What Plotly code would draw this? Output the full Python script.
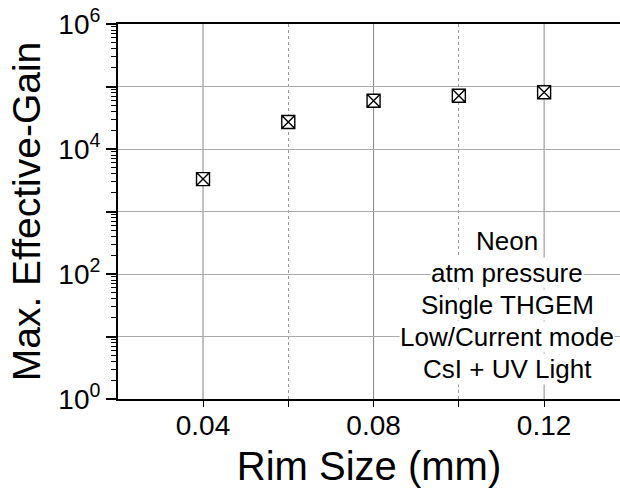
import plotly.graph_objects as go

rim_size = [0.04, 0.06, 0.08, 0.10, 0.12]
max_gain = [3300, 27000, 59000, 71000, 81000]

x_major_vals = [0.02, 0.04, 0.06, 0.08, 0.10, 0.12]
x_major_text = ["", "0.04", "", "0.08", "", "0.12"]
x_solid_grid = [0.04, 0.08, 0.12]
x_dotted_grid = [0.06, 0.10]

y_vals = [1, 10, 100, 1e3, 1e4, 1e5, 1e6]
y_text = ["10<sup>0</sup>", "", "10<sup>2</sup>", "", "10<sup>4</sup>", "", "10<sup>6</sup>"]
y_minor = [k * 10 ** d for d in range(0, 6) for k in range(2, 10)]

note_lines = ["Neon", "atm pressure", "Single THGEM", "Low/Current mode", "CsI + UV Light"]

FONT = "Liberation Sans, Arial, sans-serif"

fig = go.Figure()
fig.add_trace(go.Scatter(
    x=rim_size, y=max_gain, mode="markers",
    marker=dict(symbol="square-x", size=13, color="white",
                line=dict(color="black", width=1.4)),
    showlegend=False, cliponaxis=False,
))

fig.update_layout(
    width=620, height=492,
    margin=dict(l=118, r=0, t=24, b=93),
    paper_bgcolor="white", plot_bgcolor="white",
    font=dict(family=FONT, color="black"),
    xaxis=dict(
        range=[0.02006, 0.1378],
        tickmode="array", tickvals=x_major_vals, ticktext=x_major_text,
        ticks="outside", ticklen=6, tickwidth=1.2, tickcolor="black",
        tickfont=dict(size=28), ticklabelstandoff=-6,
        showgrid=False,
        showline=True, linecolor="black", linewidth=2, mirror=True,
        zeroline=False,
        title=dict(text="Rim Size (mm)", font=dict(size=40), standoff=12),
        minor=dict(tickmode="array", tickvals=x_dotted_grid, showgrid=True,
                   gridcolor="#999999", griddash="dot", gridwidth=1, ticks=""),
    ),
    yaxis=dict(
        type="log", range=[0, 6],
        tickmode="array", tickvals=y_vals, ticktext=y_text,
        ticks="outside", ticklen=10, tickwidth=1.5, tickcolor="black",
        tickfont=dict(size=28),
        showgrid=True, gridcolor="#aaaaaa", gridwidth=1,
        showline=True, linecolor="black", linewidth=2,
        zeroline=False,
        title=dict(text="Max. Effective-Gain", font=dict(size=39), standoff=6),
        minor=dict(tickmode="array", tickvals=y_minor, ticks="outside",
                   ticklen=5, tickwidth=1, tickcolor="black", showgrid=False),
    ),
)

for xv in x_solid_grid:
    fig.add_vline(x=xv, line=dict(color="#888888", width=1), layer="below")

line_h = 32
for i, t in enumerate(note_lines):
    fig.add_annotation(
        text=t, xref="paper", yref="paper", x=0.775, y=0.2507,
        xanchor="center", yanchor="middle",
        yshift=(2 - i) * line_h, showarrow=False,
        font=dict(size=26, family=FONT, color="black"),
        bgcolor="white", borderpad=0,
    )

fig.write_html("out.html")
